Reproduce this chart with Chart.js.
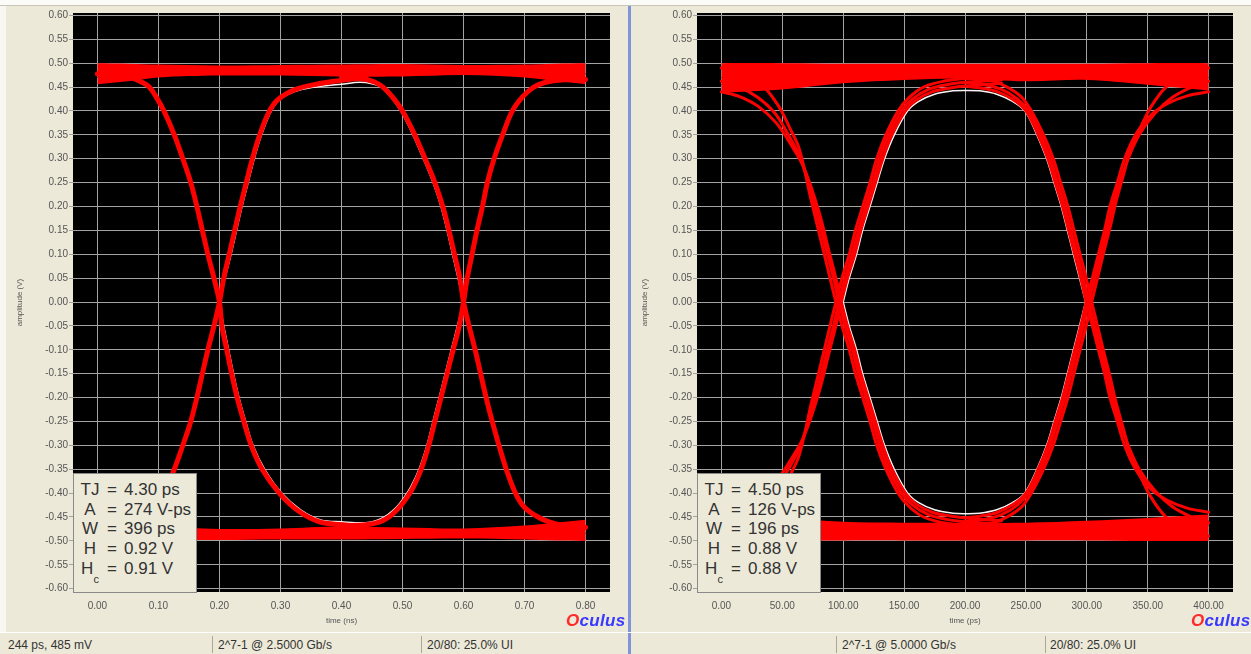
<!DOCTYPE html>
<html>
<head>
<meta charset="utf-8">
<script src="https://cdn.jsdelivr.net/npm/chart.js@4.4.0/dist/chart.umd.min.js"></script>
<style>
  body { margin: 0; width: 1251px; height: 654px; overflow: hidden; background: #ece9d8; position: relative;
         font-family: "Liberation Sans", Arial, sans-serif; color: #333; }
  canvas { position: absolute; top: 0; }
  #eyeLeft { left: 0; }
  #eyeRight { left: 626px; }
  .topstrip { position: absolute; left: 0; top: 0; width: 1251px; height: 5px; background: #fbfbf8; border-bottom: 1px solid #c9c5b4; }
  .leftstrip { position: absolute; left: 0; top: 6px; width: 6px; height: 626px; background: #f8f7f2; }
  .sep { position: absolute; left: 628px; top: 6px; width: 3px; height: 648px; background: #8093dc; }
  .status { position: absolute; top: 632px; height: 22px; width: 1251px; left: 0; border-top: 1px solid #fff; font-size: 12px; }
  .status span { position: absolute; top: 5px; white-space: nowrap; }
  .status i { position: absolute; top: 3px; width: 1px; height: 17px; background: #aca899; }
  .info { position: absolute; top: 473px; width: 122px; height: 118px; background: #ece9d8; border: 1px solid #8a8a8a; font-size: 17px; }
  .info div { position: absolute; left: 0; height: 20px; line-height: 20px; width: 122px; white-space: nowrap; }
  .info .k { position: absolute; left: 4px; width: 24px; text-align: center; }
  .info .e { position: absolute; left: 33px; }
  .info .v { position: absolute; left: 50px; }
  .info sub { font-size: 11px; position: relative; top: 9px; vertical-align: baseline; }
  .logo { position: absolute; top: 611px; font-size: 17px; font-weight: bold; font-style: italic; letter-spacing: 0.3px; }
  .logo b { color: #ff2a2a; }
  .logo em { color: #3838ff; font-style: italic; }
</style>
</head>
<body>
<div class="topstrip"></div>
<div class="leftstrip"></div>
<div class="sep"></div>

<canvas id="eyeLeft" width="625" height="632"></canvas>
<canvas id="eyeRight" width="625" height="632"></canvas>

<div class="info" style="left:73px">
  <div style="top:6px"><span class="k">TJ</span><span class="e">=</span><span class="v">4.30 ps</span></div>
  <div style="top:26px"><span class="k">A</span><span class="e">=</span><span class="v">274 V-ps</span></div>
  <div style="top:45px"><span class="k">W</span><span class="e">=</span><span class="v">396 ps</span></div>
  <div style="top:65px"><span class="k">H</span><span class="e">=</span><span class="v">0.92 V</span></div>
  <div style="top:85px"><span class="k">H<sub>c</sub></span><span class="e">=</span><span class="v">0.91 V</span></div>
</div>
<div class="info" style="left:697px">
  <div style="top:6px"><span class="k">TJ</span><span class="e">=</span><span class="v">4.50 ps</span></div>
  <div style="top:26px"><span class="k">A</span><span class="e">=</span><span class="v">126 V-ps</span></div>
  <div style="top:45px"><span class="k">W</span><span class="e">=</span><span class="v">196 ps</span></div>
  <div style="top:65px"><span class="k">H</span><span class="e">=</span><span class="v">0.88 V</span></div>
  <div style="top:85px"><span class="k">H<sub>c</sub></span><span class="e">=</span><span class="v">0.88 V</span></div>
</div>

<div class="logo" style="left:566px"><b>O</b><em>culus</em></div>
<div class="logo" style="left:1191px"><b>O</b><em>culus</em></div>

<div class="status">
  <span style="left:8px">244 ps, 485 mV</span>
  <i style="left:212px"></i>
  <span style="left:218px">2^7-1 @ 2.5000 Gb/s</span>
  <i style="left:421px"></i>
  <span style="left:427px">20/80: 25.0% UI</span>
  <i style="left:836px"></i>
  <span style="left:842px">2^7-1 @ 5.0000 Gb/s</span>
  <i style="left:1045px"></i>
  <span style="left:1050px">20/80: 25.0% UI</span>
</div>

<script>
// ---- tick values ----
const yTicks = [-0.60, -0.55, -0.50, -0.45, -0.40, -0.35, -0.30, -0.25, -0.20, -0.15, -0.10, -0.05,
  0.00, 0.05, 0.10, 0.15, 0.20, 0.25, 0.30, 0.35, 0.40, 0.45, 0.50, 0.55, 0.60];
const xTicksNs = [0.00, 0.10, 0.20, 0.30, 0.40, 0.50, 0.60, 0.70, 0.80];
const xTicksPs = [0, 50, 100, 150, 200, 250, 300, 350, 400];

// ---- left eye, 2.5 Gb/s, time in ns ----
const nsBandT     = [0.00, 0.05, 0.10, 0.20, 0.30, 0.40, 0.50, 0.60, 0.70, 0.75, 0.80];
const nsHighUpper = [0.500, 0.499, 0.497, 0.495, 0.496, 0.497, 0.498, 0.496, 0.497, 0.499, 0.500];
const nsHighLower = [0.456, 0.462, 0.470, 0.474, 0.474, 0.472, 0.472, 0.475, 0.470, 0.463, 0.456];
const nsLowUpper  = [-0.458, -0.465, -0.470, -0.475, -0.474, -0.470, -0.472, -0.474, -0.468, -0.462, -0.456];
const nsLowLower  = [-0.500, -0.499, -0.498, -0.498, -0.497, -0.497, -0.496, -0.495, -0.497, -0.499, -0.500];

const nsFall1T = [0.000, 0.035, 0.055, 0.073, 0.085, 0.096, 0.109, 0.126, 0.140, 0.153, 0.163, 0.172, 0.181, 0.191, 0.200,
                  0.204, 0.212, 0.220, 0.229, 0.240, 0.252, 0.270, 0.298, 0.330, 0.364, 0.400, 0.440];
const nsFall1V = [0.478, 0.475, 0.470, 0.460, 0.450, 0.430, 0.400, 0.350, 0.300, 0.250, 0.200, 0.150, 0.100, 0.050, 0.000,
                  -0.050, -0.100, -0.150, -0.200, -0.250, -0.300, -0.350, -0.400, -0.438, -0.460, -0.466, -0.470];
const nsRise1T = [0.000, 0.035, 0.055, 0.073, 0.085, 0.096, 0.109, 0.126, 0.140, 0.153, 0.163, 0.172, 0.181, 0.191, 0.200,
                  0.207, 0.216, 0.225, 0.234, 0.244, 0.254, 0.266, 0.282, 0.297, 0.327, 0.367, 0.400, 0.440];
const nsRise1V = [-0.478, -0.475, -0.470, -0.460, -0.450, -0.430, -0.400, -0.350, -0.300, -0.250, -0.200, -0.150, -0.100, -0.050, 0.000,
                  0.050, 0.100, 0.150, 0.200, 0.250, 0.300, 0.350, 0.400, 0.425, 0.446, 0.458, 0.464, 0.470];
const nsFall2T = [0.400, 0.440, 0.455, 0.468, 0.483, 0.500, 0.520, 0.537, 0.553, 0.566, 0.576, 0.585, 0.594, 0.600,
                  0.609, 0.619, 0.628, 0.637, 0.647, 0.658, 0.670, 0.685, 0.700, 0.722, 0.740, 0.765, 0.800];
const nsFall2V = [0.470, 0.466, 0.460, 0.450, 0.430, 0.400, 0.350, 0.300, 0.250, 0.200, 0.150, 0.100, 0.050, 0.000,
                  -0.050, -0.100, -0.150, -0.200, -0.250, -0.300, -0.350, -0.400, -0.430, -0.450, -0.460, -0.468, -0.472];
const nsRise2T = [0.400, 0.440, 0.463, 0.479, 0.494, 0.505, 0.517, 0.530, 0.543, 0.553, 0.563, 0.573, 0.583, 0.593, 0.600,
                  0.606, 0.614, 0.622, 0.631, 0.639, 0.650, 0.664, 0.680, 0.697, 0.715, 0.735, 0.765, 0.800];
const nsRise2V = [-0.468, -0.466, -0.460, -0.449, -0.431, -0.413, -0.389, -0.352, -0.300, -0.250, -0.200, -0.150, -0.100, -0.050, 0.000,
                  0.050, 0.100, 0.150, 0.200, 0.250, 0.300, 0.350, 0.400, 0.430, 0.450, 0.460, 0.465, 0.466];

const nsStreakHiT = [0.00, 0.05, 0.10, 0.15, 0.25, 0.35, 0.50, 0.65, 0.80];
const nsStreakHiV = [0.470, 0.474, 0.478, 0.482, 0.483, 0.484, 0.485, 0.484, 0.478];
const nsStreakLoT = [0.20, 0.35, 0.45, 0.55, 0.65, 0.75, 0.80];
const nsStreakLoV = [-0.487, -0.488, -0.489, -0.487, -0.488, -0.486, -0.484];

const nsWhiteTopT = [0.200, 0.209, 0.219, 0.228, 0.237, 0.247, 0.257, 0.269, 0.285, 0.300, 0.330, 0.370, 0.400, 0.430,
                     0.450, 0.465, 0.480, 0.497, 0.517, 0.534, 0.550, 0.563, 0.573, 0.582, 0.591, 0.600];
const nsWhiteTopV = [0.000, 0.050, 0.100, 0.150, 0.200, 0.250, 0.300, 0.350, 0.400, 0.425, 0.443, 0.452, 0.456, 0.460,
                     0.457, 0.450, 0.430, 0.400, 0.350, 0.300, 0.250, 0.200, 0.150, 0.100, 0.050, 0.000];
const nsWhiteBotT = [0.200, 0.207, 0.215, 0.223, 0.232, 0.243, 0.255, 0.274, 0.302, 0.333, 0.366, 0.400, 0.440,
                     0.460, 0.476, 0.491, 0.502, 0.514, 0.527, 0.540, 0.550, 0.560, 0.570, 0.580, 0.590, 0.600];
const nsWhiteBotV = [0.000, -0.050, -0.100, -0.150, -0.200, -0.250, -0.300, -0.350, -0.400, -0.435, -0.456, -0.460, -0.462,
                     -0.456, -0.445, -0.428, -0.410, -0.386, -0.350, -0.300, -0.250, -0.200, -0.150, -0.100, -0.050, 0.000];

// ---- right eye, 5 Gb/s, time in ps ----
const psBandT     = [0, 50, 100, 150, 200, 250, 300, 350, 400];
const psHighUpper = [0.500, 0.500, 0.499, 0.499, 0.499, 0.499, 0.499, 0.500, 0.500];
const psHighLower = [0.438, 0.445, 0.458, 0.465, 0.468, 0.462, 0.465, 0.455, 0.443];
const psLowUpper  = [-0.445, -0.452, -0.460, -0.462, -0.462, -0.462, -0.458, -0.452, -0.445];
const psLowLower  = [-0.500, -0.500, -0.499, -0.499, -0.499, -0.499, -0.499, -0.500, -0.500];

// crossing near 100 ps (rising traces; falling traces use the same times with opposite sign)
const psX1BT = [0, 15, 30, 45, 57, 68, 80, 89, 94, 98.5, 103.5, 109.5, 114.5, 120.5, 126.5, 132.5, 140, 151, 160, 173, 188, 200, 230];
const psX1BV = [-0.440, -0.430, -0.410, -0.375, -0.330, -0.280, -0.190, -0.100, -0.050, 0.000, 0.050, 0.100, 0.150, 0.200, 0.250, 0.300, 0.350, 0.400, 0.423, 0.440, 0.448, 0.452, 0.458];
const psX1AT = [0, 15, 30, 44, 55, 65, 77, 87, 92, 96.5, 101.5, 107.5, 112.5, 118.5, 124.5, 130, 137.5, 148, 157, 170, 185, 200, 230];
const psX1AV = [-0.462, -0.450, -0.428, -0.395, -0.350, -0.300, -0.200, -0.100, -0.050, 0.000, 0.050, 0.100, 0.150, 0.200, 0.250, 0.300, 0.350, 0.400, 0.425, 0.445, 0.455, 0.460, 0.465];
const psX1CT = [0, 20, 35, 47, 56, 64, 74, 84, 89, 94, 99, 105, 110, 116, 122, 127.5, 135, 145, 154, 166, 182, 200, 230];
const psX1CV = [-0.490, -0.475, -0.450, -0.410, -0.365, -0.320, -0.210, -0.105, -0.052, 0.000, 0.050, 0.100, 0.150, 0.200, 0.250, 0.300, 0.350, 0.400, 0.428, 0.450, 0.462, 0.468, 0.472];
const psX1BVneg = [0.440, 0.430, 0.410, 0.375, 0.330, 0.280, 0.190, 0.100, 0.050, 0.000, -0.050, -0.100, -0.150, -0.200, -0.250, -0.300, -0.350, -0.400, -0.423, -0.440, -0.448, -0.452, -0.458];
const psX1AVneg = [0.462, 0.450, 0.428, 0.395, 0.350, 0.300, 0.200, 0.100, 0.050, 0.000, -0.050, -0.100, -0.150, -0.200, -0.250, -0.300, -0.350, -0.400, -0.425, -0.445, -0.455, -0.460, -0.465];
const psX1CVneg = [0.490, 0.475, 0.450, 0.410, 0.365, 0.320, 0.210, 0.105, 0.052, 0.000, -0.050, -0.100, -0.150, -0.200, -0.250, -0.300, -0.350, -0.400, -0.428, -0.450, -0.462, -0.468, -0.472];

// crossing near 300 ps (falling traces; rising traces use the same times with opposite sign)
const psX2BT = [200, 213, 227, 240, 250, 260, 268, 274, 280, 285, 290, 295, 299.5, 304.5, 309.5, 314.5, 319, 325, 331, 340, 352, 366, 383, 400];
const psX2BV = [0.452, 0.448, 0.440, 0.423, 0.400, 0.350, 0.300, 0.250, 0.200, 0.150, 0.100, 0.050, 0.000, -0.050, -0.100, -0.150, -0.200, -0.250, -0.300, -0.350, -0.390, -0.415, -0.432, -0.440];
const psX2AT = [200, 216, 230, 243, 252, 262, 270, 276, 282, 287, 292, 297, 301.5, 306.5, 311.5, 316.5, 321, 327, 334, 343, 356, 370, 386, 400];
const psX2AV = [0.460, 0.455, 0.445, 0.425, 0.400, 0.350, 0.300, 0.250, 0.200, 0.150, 0.100, 0.050, 0.000, -0.050, -0.100, -0.150, -0.200, -0.250, -0.300, -0.350, -0.395, -0.428, -0.450, -0.462];
const psX2CT = [200, 219, 233, 246, 254.5, 264.5, 272.5, 278.5, 284.5, 289.5, 294.5, 299.5, 304, 309, 314, 319, 324, 330, 336, 344, 353, 365, 380, 400];
const psX2CV = [0.468, 0.465, 0.452, 0.430, 0.400, 0.350, 0.300, 0.250, 0.200, 0.150, 0.100, 0.050, 0.000, -0.052, -0.105, -0.155, -0.210, -0.265, -0.320, -0.365, -0.410, -0.450, -0.475, -0.490];
const psX2BVneg = [-0.452, -0.448, -0.440, -0.423, -0.400, -0.350, -0.300, -0.250, -0.200, -0.150, -0.100, -0.050, 0.000, 0.050, 0.100, 0.150, 0.200, 0.250, 0.300, 0.350, 0.390, 0.415, 0.432, 0.440];
const psX2AVneg = [-0.460, -0.455, -0.445, -0.425, -0.400, -0.350, -0.300, -0.250, -0.200, -0.150, -0.100, -0.050, 0.000, 0.050, 0.100, 0.150, 0.200, 0.250, 0.300, 0.350, 0.395, 0.428, 0.450, 0.462];
const psX2CVneg = [-0.468, -0.465, -0.452, -0.430, -0.400, -0.350, -0.300, -0.250, -0.200, -0.150, -0.100, -0.050, 0.000, 0.052, 0.105, 0.155, 0.210, 0.265, 0.320, 0.365, 0.410, 0.450, 0.475, 0.490];

const psStreak1T = [0, 60, 120, 200, 280, 340, 400];
const psStreak1V = [0.470, 0.478, 0.482, 0.485, 0.482, 0.478, 0.470];
const psStreak2T = [0, 50, 100, 160];
const psStreak2V = [0.455, 0.462, 0.470, 0.478];
const psStreak3T = [0, 80, 160, 240, 320, 400];
const psStreak3V = [-0.470, -0.478, -0.485, -0.485, -0.478, -0.468];
const psStreak4T = [240, 320, 400];
const psStreak4V = [-0.475, -0.468, -0.458];

const psWhiteT    = [100, 105, 111, 116, 122, 128, 134, 142, 153, 162, 175, 190, 200, 212, 226, 239, 249, 259, 267, 273, 279, 284, 289, 294, 299];
const psWhiteTopV = [0.000, 0.050, 0.100, 0.150, 0.200, 0.250, 0.300, 0.350, 0.400, 0.420, 0.435, 0.442, 0.443, 0.442, 0.435, 0.420, 0.400, 0.350, 0.300, 0.250, 0.200, 0.150, 0.100, 0.050, 0.000];
const psWhiteBotV = [0.000, -0.050, -0.100, -0.150, -0.200, -0.250, -0.300, -0.350, -0.400, -0.420, -0.435, -0.442, -0.443, -0.442, -0.435, -0.420, -0.400, -0.350, -0.300, -0.250, -0.200, -0.150, -0.100, -0.050, 0.000];

// ---- helpers ----
Chart.defaults.font.family = '"Liberation Sans", Arial, sans-serif';
Chart.defaults.color = '#555';

const pts = (ts, vs) => ts.map((t, i) => ({ x: t, y: vs[i] }));
const RED = '#ff0000';
const DARK = 'rgba(70,0,0,0.65)';
const WHITE = '#fff4f4';

function band(t, up, lo) {
  return [
    { data: pts(t, up), borderWidth: 0, backgroundColor: RED, fill: '+1' },
    { data: pts(t, lo), borderWidth: 0, fill: false }
  ];
}
function trace(t, v, color, w) {
  return { data: pts(t, v), borderColor: color, borderWidth: w, fill: false };
}

// black plot area behind the grid
const blackArea = {
  id: 'blackArea',
  beforeDraw(chart) {
    const { ctx, chartArea: a } = chart;
    ctx.save();
    ctx.fillStyle = '#000';
    ctx.fillRect(a.left, a.top, a.right - a.left, a.bottom - a.top);
    ctx.restore();
  }
};

function makeEye(id, datasets, o) {
  return new Chart(document.getElementById(id), {
    type: 'line',
    data: { datasets: datasets },
    options: {
      responsive: false,
      animation: false,
      layout: { padding: { top: 13, right: o.padRight, left: 0, bottom: 0 } },
      elements: { point: { radius: 0 }, line: { tension: 0.35, borderCapStyle: 'round', borderJoinStyle: 'round' } },
      plugins: { legend: { display: false }, tooltip: { enabled: false } },
      scales: {
        x: {
          type: 'linear', min: o.xMin, max: o.xMax,
          afterBuildTicks: s => { s.ticks = o.xTicks.map(v => ({ value: v })); },
          afterFit: s => { s.height = 40; },
          grid: { color: '#a3a3a3', drawTicks: false },
          border: { display: false },
          ticks: { padding: 8, maxRotation: 0, autoSkip: false, color: '#555', font: { size: 10 },
                   callback: v => Number(v).toFixed(2) },
          title: { display: true, text: o.xTitle, color: '#555', font: { size: 8 }, padding: { top: 0, bottom: 6 } }
        },
        y: {
          type: 'linear', min: -0.607, max: 0.605,
          afterBuildTicks: s => { s.ticks = yTicks.map(v => ({ value: v })); },
          afterFit: s => { s.width = o.yWidth; },
          grid: { color: '#a3a3a3', tickLength: 4 },
          border: { display: false },
          ticks: { padding: 1, autoSkip: false, color: '#555', font: { size: 10 },
                   callback: v => Number(v).toFixed(2) },
          title: { display: true, text: 'amplitude (V)', color: '#555', font: { size: 8 }, padding: { top: o.yTitlePad, bottom: 0 } }
        }
      }
    },
    plugins: [blackArea]
  });
}

const leftSets = [
  ...band(nsBandT, nsHighUpper, nsHighLower),
  ...band(nsBandT, nsLowUpper, nsLowLower),
  trace(nsRise1T, nsRise1V, RED, 5),
  trace(nsFall1T, nsFall1V, RED, 5),
  trace(nsFall2T, nsFall2V, RED, 5),
  trace(nsRise2T, nsRise2V, RED, 5),
  trace(nsStreakHiT, nsStreakHiV, DARK, 1),
  trace(nsStreakLoT, nsStreakLoV, DARK, 1),
  trace(nsWhiteTopT, nsWhiteTopV, WHITE, 1.5),
  trace(nsWhiteBotT, nsWhiteBotV, WHITE, 1.5)
];

const rightSets = [
  ...band(psBandT, psHighUpper, psHighLower),
  ...band(psBandT, psLowUpper, psLowLower),
  trace(psX1CT, psX1CV, RED, 3), trace(psX1AT, psX1AV, RED, 3), trace(psX1BT, psX1BV, RED, 3),
  trace(psX1CT, psX1CVneg, RED, 3), trace(psX1AT, psX1AVneg, RED, 3), trace(psX1BT, psX1BVneg, RED, 3),
  trace(psX2CT, psX2CV, RED, 3), trace(psX2AT, psX2AV, RED, 3), trace(psX2BT, psX2BV, RED, 3),
  trace(psX2CT, psX2CVneg, RED, 3), trace(psX2AT, psX2AVneg, RED, 3), trace(psX2BT, psX2BVneg, RED, 3),
  trace(psStreak1T, psStreak1V, DARK, 1), trace(psStreak2T, psStreak2V, DARK, 1),
  trace(psStreak3T, psStreak3V, DARK, 1), trace(psStreak4T, psStreak4V, DARK, 1),
  trace(psWhiteT, psWhiteTopV, WHITE, 1.5),
  trace(psWhiteT, psWhiteBotV, WHITE, 1.5)
];

makeEye('eyeLeft', leftSets, { xMin: -0.04, xMax: 0.84, xTicks: xTicksNs, xTitle: 'time (ns)', padRight: 15, yWidth: 73, yTitlePad: 15 });
makeEye('eyeRight', rightSets, { xMin: -20, xMax: 420, xTicks: xTicksPs, xTitle: 'time (ps)', padRight: 18, yWidth: 71, yTitlePad: 14 });
</script>
</body>
</html>
